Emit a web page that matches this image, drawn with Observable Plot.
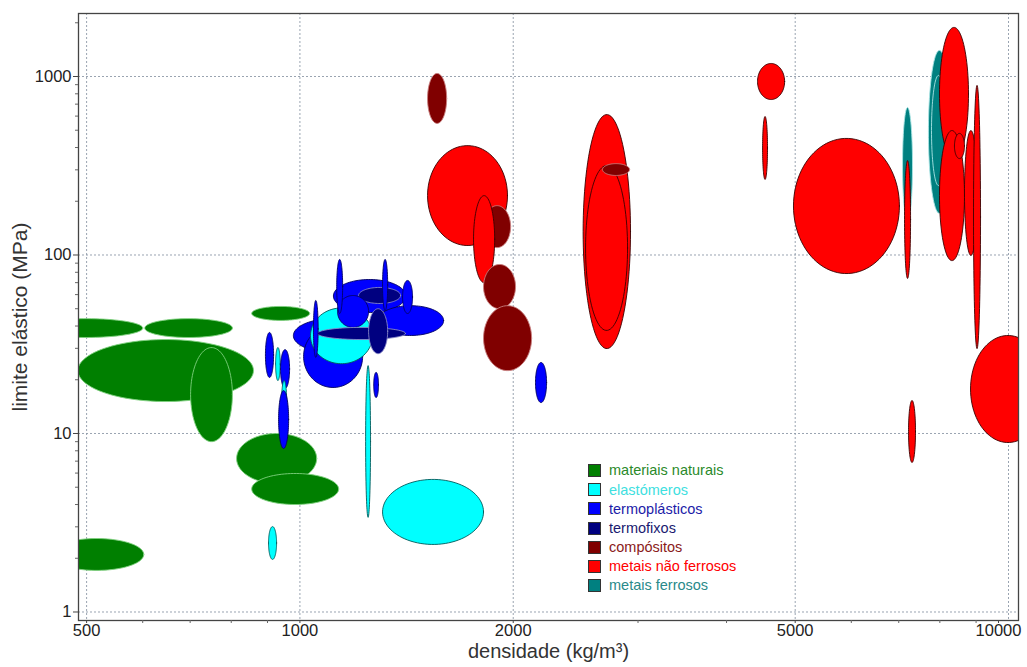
<!DOCTYPE html>
<html><head><meta charset="utf-8">
<script src="https://cdn.jsdelivr.net/npm/d3@7"></script>
<script src="https://cdn.jsdelivr.net/npm/@observablehq/plot@0.6"></script>
<style>
body{margin:0;background:#fff;font-family:"Liberation Sans",Arial,sans-serif;}
#wrap{position:relative;width:1027px;height:667px;}
#legend{position:absolute;left:588px;top:461px;font-size:14.5px;line-height:1;}
.row{display:flex;align-items:center;height:19.2px;}
.sw{width:13px;height:13px;border:1px solid #333;box-sizing:border-box;margin-right:8px;flex:none;}
</style></head><body><div id="wrap"></div>
<script>
// material classes
const classes = ["materiais naturais","elastómeros","termoplásticos","termofixos","compósitos","metais não ferrosos","metais ferrosos"];
const classFill = ["#007f00","#00ffff","#0000ff","#000080","#800000","#ff0000","#008080"];
const classStroke = ["#7fd07f","#005a5a","#000060","#8a8ac8","#c88080","#3a0000","#a8e4e4"];
const classText = ["#2a8a2a","#40e0e0","#1c1ca8","#1a1a70","#8a1a1a","#ff0000","#2a8a8a"];

// axis ticks
const xTicks = [500,1000,2000,5000,10000];
const yTicks = [1,10,100,1000];
const xMinor = [600,700,800,900,3000,4000,6000,7000,8000,9000];
const yMinor = [2,3,4,5,6,7,8,9,20,30,40,50,60,70,80,90,200,300,400,500,600,700,800,900,2000];

// material property ranges (density kg/m3, yield strength MPa), in drawing order
const ellClass = [0,0,0,0,0,0,0,0, 2,2,2,3,2,1,2,3,3,2,2,2,2,2,1,2,1,2,2,1,2,1,1, 5,4,5,4,4,4,5,5,4,5,5,5,6,5,6,6,5,5,5,5,5,5,5];
const densMin = [486,701,414,604,855,814,855,443, 979,1012,1115,1210,1287,1035,1130,1059,1250,1127,1308,1396,1045,894,924,939,942,933,1271,1238,2150,1308,903, 1514,1816,1758,1816,1816,1514,2510,2530,2673,4424,4497,4972,7087,7133,7709,7786,7991,7991,8667,8389,8925,7226,8839];
const densMax = [860,803,600,803,1032,1056,1134,602, 1266,1226,1410,1387,1595,1266,1250,1409,1330,1149,1330,1442,1061,918,938,967,958,964,1291,1258,2229,1816,927, 1963,1983,1883,2015,2123,1611,2928,2900,2919,4831,4570,7015,7320,7274,8280,8149,8781,8667,9036,8667,9131,7392,11276];
const ysMin = [15.1,9.0,34.5,34.5,43,5.25,4.0,1.71, 28.4,18.1,47.6,53.5,35.4,24.6,39.3,33.6,28,47,48.9,47,26.7,20.6,19.8,17.9,11.1,8.24,15.9,3.39,14.9,2.39,1.97, 113,110,70,50,22.5,546,29.9,37.8,279,743,265,78.7,152,73.9,171,245,338,93,99.4,347,29.9,6.88,8.9];
const ysMax = [33.6,30.3,44,44,51.5,10,5.97,2.58, 44,40.3,72.9,65.8,52,50.5,59.3,39.3,50,94.4,94.4,72,55.6,36.8,30.3,29.5,19.8,17.4,22,24,25,5.53,3.01, 410,189,215,88.5,52,1040,612,317,325,1183,597,450,670,338,1400,1014,1884,498,498,480,891,15.3,35.4];

// build ellipse outlines (in log space) from the ranges
const N = 90;
const pts = [];
ellClass.forEach((c, i) => {
  const lx0 = Math.log10(densMin[i]), lx1 = Math.log10(densMax[i]);
  const ly0 = Math.log10(ysMin[i]), ly1 = Math.log10(ysMax[i]);
  const cx = (lx0 + lx1) / 2, cy = (ly0 + ly1) / 2, rx = (lx1 - lx0) / 2, ry = (ly1 - ly0) / 2;
  for (let k = 0; k <= N; ++k) {
    const t = 2 * Math.PI * k / N;
    pts.push({id: i, fill: classFill[c], stroke: classStroke[c],
      x: Math.pow(10, cx + rx * Math.cos(t)), y: Math.pow(10, cy + ry * Math.sin(t))});
  }
});

const W = 1027, H = 667, mL = 78, mR = 9, mT = 13, mB = 47;
const tickOpts = {tickFormat: d => String(d), fontSize: 16.5, label: null, stroke: "#444", fill: "#222"};
const chart = Plot.plot({
  width: W, height: H,
  marginLeft: mL, marginRight: mR, marginTop: mT, marginBottom: mB,
  style: {fontFamily: '"Liberation Sans", Arial, sans-serif', background: "#fff", color: "#222"},
  x: {type: "log", domain: [487, 10330]},
  y: {type: "log", domain: [0.896, 2254]},
  color: {type: "identity"},
  marks: [
    Plot.gridX(xTicks, {stroke: "#8f9aa8", strokeOpacity: 0.9, strokeDasharray: "2,2"}),
    Plot.gridY(yTicks, {stroke: "#8f9aa8", strokeOpacity: 0.9, strokeDasharray: "2,2"}),
    Plot.line(pts, {x: "x", y: "y", z: "id", fill: "fill", stroke: "stroke", strokeWidth: 0.9, curve: "linear-closed", clip: true}),
    Plot.frame({stroke: "#444", strokeWidth: 1.3}),
    Plot.axisX(xTicks.slice(0, -1), {...tickOpts, tickSize: 3, tickPadding: 1}),
    Plot.axisX(xTicks.slice(-1), {...tickOpts, tickSize: 3, tickPadding: 1, textAnchor: "middle", dx: -10}),
    Plot.axisY(yTicks, {...tickOpts, tickSize: 5, tickPadding: 2}),
    Plot.tickX(xMinor, {x: d => d, stroke: "#666", insetTop: H - mT - mB, insetBottom: -3}),
    Plot.tickY(yMinor, {y: d => d, stroke: "#666", insetRight: W - mL - mR, insetLeft: -3}),
    Plot.text(["densidade (kg/m³)"], {text: d => d, frameAnchor: "bottom", textAnchor: "middle", dy: 37, fontSize: 20, fill: "#333"}),
    Plot.text(["limite elástico (MPa)"], {text: d => d, frameAnchor: "left", textAnchor: "middle", dx: -58, rotate: -90, fontSize: 21, fill: "#333"})
  ]
});
const wrap = document.getElementById("wrap");
wrap.appendChild(chart);

const legend = document.createElement("div");
legend.id = "legend";
classes.forEach((name, i) => {
  const row = document.createElement("div");
  row.className = "row";
  const sw = document.createElement("div");
  sw.className = "sw";
  sw.style.background = classFill[i];
  const tx = document.createElement("span");
  tx.textContent = name;
  tx.style.color = classText[i];
  row.appendChild(sw); row.appendChild(tx);
  legend.appendChild(row);
});
wrap.appendChild(legend);
</script></body></html>
